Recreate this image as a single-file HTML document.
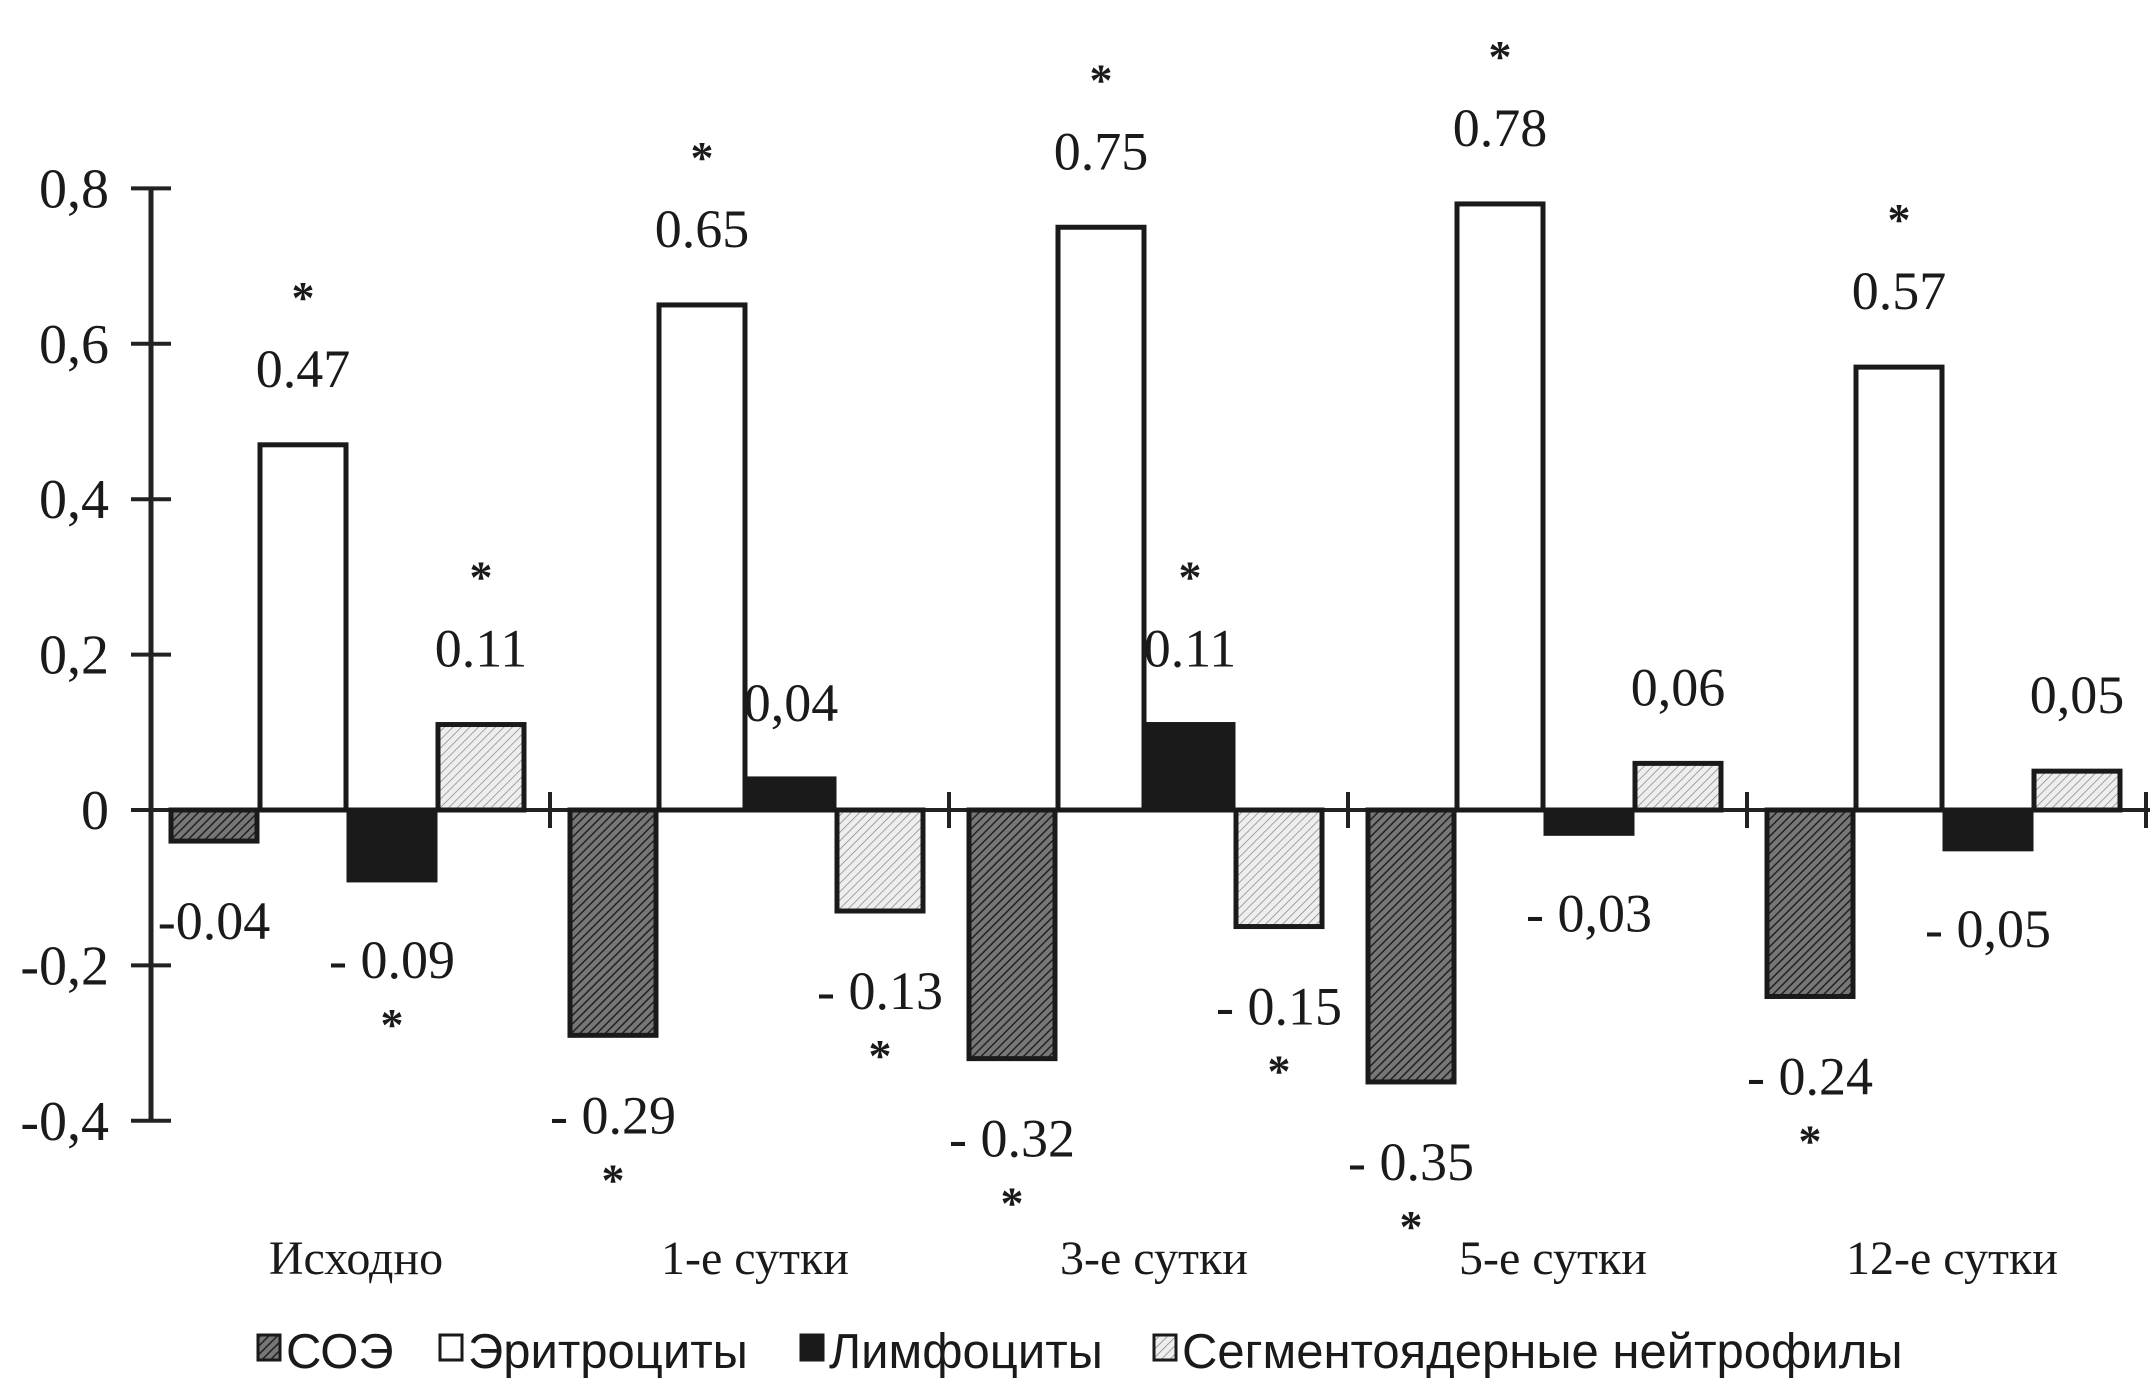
<!DOCTYPE html>
<html><head><meta charset="utf-8"><style>
html,body{margin:0;padding:0;background:#fff;}
svg{display:block;}
text{font-family:"Liberation Serif",serif;fill:#1a1a1a;}
</style></head><body>
<svg id="chart" width="2154" height="1397" viewBox="0 0 2154 1397" xmlns="http://www.w3.org/2000/svg">
<defs>
<pattern id="hatchDark" patternUnits="userSpaceOnUse" width="6" height="6" patternTransform="rotate(45)">
<rect width="6" height="6" fill="#777"/><line x1="0" y1="0" x2="0" y2="6" stroke="#222" stroke-width="3"/></pattern>
<pattern id="hatchLight" patternUnits="userSpaceOnUse" width="6" height="6" patternTransform="rotate(45)">
<rect width="6" height="6" fill="#eee"/><line x1="0" y1="0" x2="0" y2="6" stroke="#888" stroke-width="1.5"/></pattern>
</defs>
<g id="plot"></g>
</svg>
<script>
const categories = ["Исходно","1-е сутки","3-е сутки","5-е сутки","12-е сутки"];
const seriesNames = ["СОЭ","Эритроциты","Лимфоциты","Сегментоядерные нейтрофилы"];
const soe = [-0.04,-0.29,-0.32,-0.35,-0.24];
const eryth = [0.47,0.65,0.75,0.78,0.57];
const lymph = [-0.09,0.04,0.11,-0.03,-0.05];
const segm = [0.11,-0.13,-0.15,0.06,0.05];
const soeLabels = ["-0.04","- 0.29","- 0.32","- 0.35","- 0.24"];
const erythLabels = ["0.47","0.65","0.75","0.78","0.57"];
const lymphLabels = ["- 0.09","0,04","0.11","- 0,03","- 0,05"];
const segmLabels = ["0.11","- 0.13","- 0.15","0,06","0,05"];
const soeStars = [false,true,true,true,true];
const erythStars = [true,true,true,true,true];
const lymphStars = [true,false,true,false,false];
const segmStars = [true,true,true,false,false];
const yTicks = [0.8,0.6,0.4,0.2,0,-0.2,-0.4];
const yTickLabels = ["0,8","0,6","0,4","0,2","0","-0,2","-0,4"];

const NS="http://www.w3.org/2000/svg";
const g=document.getElementById('plot');
const X0=151, GW=399, Y0=810, SCALE=777;
const y=v=>Y0-v*SCALE;
const groupX=i=>X0+i*GW;
const barX=(i,s)=>groupX(i)+20+s*89;
function mk(tag,attrs,parent){const e=document.createElementNS(NS,tag);for(const k in attrs)e.setAttribute(k,attrs[k]);(parent||g).appendChild(e);return e;}

const ax=mk('line',{x1:X0,y1:y(0.8),x2:X0,y2:y(-0.4),stroke:'#222','stroke-width':5});


const xa=mk('line',{x1:X0,y1:Y0,x2:2150,y2:Y0,stroke:'#222','stroke-width':4});


yTicks.forEach((v,i)=>{
  const t=mk('line',{x1:X0-20,y1:y(v),x2:X0+20,y2:y(v),stroke:'#222','stroke-width':4});
  
  
  const l=mk('text',{x:X0-42,y:y(v)+19,'text-anchor':'end','font-size':56});
  l.textContent=yTickLabels[i];
  
  
});
for(let i=1;i<=categories.length;i++){
  const t=mk('line',{x1:groupX(i),y1:Y0-18,x2:groupX(i),y2:Y0+18,stroke:'#222','stroke-width':4});
  
  
}
const series=[
 {vals:soe,labels:soeLabels,stars:soeStars,fill:'url(#hatchDark)',name:'soe'},
 {vals:eryth,labels:erythLabels,stars:erythStars,fill:'#fff',name:'erythrocytes'},
 {vals:lymph,labels:lymphLabels,stars:lymphStars,fill:'#1a1a1a',name:'lymphocytes'},
 {vals:segm,labels:segmLabels,stars:segmStars,fill:'url(#hatchLight)',name:'segmented-neutrophils'}
];
series.forEach((s,si)=>{
  s.vals.forEach((v,i)=>{
    const x=barX(i,si), top=Math.min(y(v),Y0), h=Math.abs(y(v)-Y0);
    const r=mk('rect',{x:x,y:top,width:86,height:h,fill:s.fill,stroke:'#1a1a1a','stroke-width':5});
    
    
    const cx=x+43;
    let ly, sy;
    if(v>=0){ly=top-58; sy=top-132;} else {ly=top+h+98; sy=top+h+160;}
    const t=mk('text',{x:cx,y:ly,'text-anchor':'middle','font-size':54});
    t.textContent=s.labels[i];
    
    
    if(s.stars[i]){
      const st=mk('text',{x:cx,y:sy,'text-anchor':'middle','font-size':46,'font-weight':'bold'});
      st.textContent='*';
      
      
    }
  });
});
categories.forEach((c,i)=>{
  const t=mk('text',{x:groupX(i)+205,y:1274,'text-anchor':'middle','font-size':48});
  t.textContent=c;
  
  
});
const legX=[258,440,801,1154];
const legFill=['url(#hatchDark)','#fff','#1a1a1a','url(#hatchLight)'];
seriesNames.forEach((n,i)=>{
  const r=mk('rect',{x:legX[i],y:1335,width:22,height:25,fill:legFill[i],stroke:'#1a1a1a','stroke-width':3});
  
  
  const t=mk('text',{x:legX[i]+28,y:1368,'font-size':49,style:'font-family:"Liberation Sans",sans-serif'});
  t.textContent=n;
  
  
});
</script>
</body></html>
